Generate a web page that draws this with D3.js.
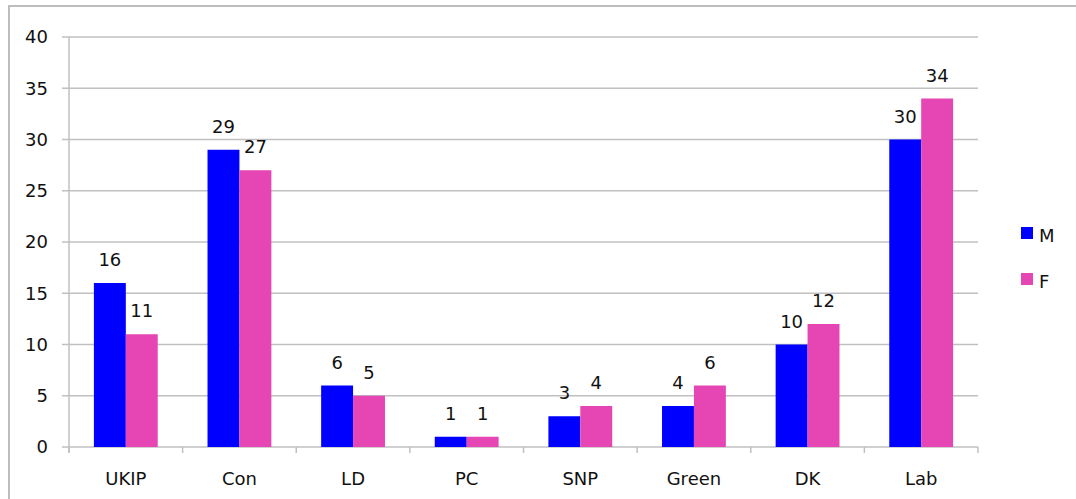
<!DOCTYPE html>
<html lang="en">
<head>
    <meta charset="utf-8" />
    <title>M / F by party</title>
    <style>
        body { margin: 0; background: white; }
        text { font-family: 'DejaVu Sans', sans-serif; fill: #111; }
        .grid line { stroke: #c0c0c0; stroke-width: 1.5px; }
        .axis line, .axis path { stroke: #c0c0c0; stroke-width: 1.5px; fill: none; }
    </style>
    <script src="https://d3js.org/d3.v7.min.js"></script>
</head>
<body>
    <svg id="vis" width="1076" height="499"></svg>
    <script>
        var parties = ["UKIP", "Con", "LD", "PC", "SNP", "Green", "DK", "Lab"];
        var maleValues = [16, 29, 6, 1, 3, 4, 10, 30];
        var femaleValues = [11, 27, 5, 1, 4, 6, 12, 34];
        var series = ["M", "F"];
        var yTicks = [0, 5, 10, 15, 20, 25, 30, 35, 40];

        var fills = { M: "#0000ff", F: "#e646b4" };

        var margin = { top: 37, left: 69, right: 98, bottom: 52 };
        var width = 1076 - margin.left - margin.right;
        var height = 499 - margin.top - margin.bottom;

        var svg = d3.select("#vis");

        // outer frame
        svg.append("rect").attr("x", 9).attr("y", 6).attr("width", 1100).attr("height", 600)
            .attr("fill", "none").attr("stroke", "#bdbdbd").attr("stroke-width", 2);

        var g = svg.append("g").attr("transform", "translate(" + margin.left + "," + margin.top + ")");

        var x0 = d3.scaleBand().domain(parties).range([0, width]).padding(0);
        var x1 = d3.scaleBand().domain(series).range([0, x0.bandwidth()]).paddingInner(0).paddingOuter(0.78);
        var y = d3.scaleLinear().domain([0, 40]).range([height, 0]);

        // gridlines + y labels
        var grid = g.append("g").attr("class", "grid");
        grid.selectAll("line").data(yTicks).enter().append("line")
            .attr("x1", -7).attr("x2", width)
            .attr("y1", function (d) { return y(d); }).attr("y2", function (d) { return y(d); });

        g.append("g").selectAll("text").data(yTicks).enter().append("text")
            .attr("x", -21).attr("y", function (d) { return y(d); })
            .attr("dy", "0.36em").attr("text-anchor", "end").attr("font-size", 18)
            .text(function (d) { return d; });

        // y axis line
        g.append("line").attr("class", "axisline")
            .attr("x1", 0).attr("x2", 0).attr("y1", y(40)).attr("y2", height + 6)
            .attr("stroke", "#c0c0c0").attr("stroke-width", 1.5);

        // x axis
        var xAxis = g.append("g").attr("class", "axis").attr("transform", "translate(0," + height + ")");
        xAxis.selectAll("line.tick").data(parties.concat(["end"])).enter().append("line")
            .attr("x1", function (d, i) { return i * x0.step(); })
            .attr("x2", function (d, i) { return i * x0.step(); })
            .attr("y1", 0).attr("y2", 6);
        xAxis.selectAll("text").data(parties).enter().append("text")
            .attr("x", function (d) { return x0(d) + x0.bandwidth() / 2; })
            .attr("y", 38).attr("text-anchor", "middle").attr("font-size", 18)
            .text(function (d) { return d; });

        // bars
        var rows = parties.map(function (p, i) { return { party: p, M: maleValues[i], F: femaleValues[i] }; });

        var groups = g.selectAll("g.party").data(rows).enter().append("g").attr("class", "party")
            .attr("transform", function (d) { return "translate(" + x0(d.party) + ",0)"; });

        var cells = groups.selectAll("g.bar").data(function (d) {
            return series.map(function (s) { return { key: s, value: d[s] }; });
        }).enter().append("g").attr("class", "bar");

        cells.append("rect")
            .attr("x", function (d) { return x1(d.key); })
            .attr("width", x1.bandwidth())
            .attr("y", function (d) { return y(d.value); })
            .attr("height", function (d) { return height - y(d.value); })
            .attr("fill", function (d) { return fills[d.key]; });

        cells.append("text")
            .attr("x", function (d) { return x1(d.key) + x1.bandwidth() / 2; })
            .attr("y", function (d) { return y(d.value) - 17; })
            .attr("text-anchor", "middle").attr("font-size", 18)
            .text(function (d) { return d.value; });

        // legend
        var legend = svg.append("g").attr("transform", "translate(1021,227)");
        var items = legend.selectAll("g").data(series).enter().append("g")
            .attr("transform", function (d, i) { return "translate(0," + (i * 46) + ")"; });
        items.append("rect").attr("width", 12).attr("height", 12)
            .attr("fill", function (d) { return fills[d]; });
        items.append("text").attr("x", 18).attr("y", 15).attr("font-size", 18)
            .text(function (d) { return d; });
    </script>
</body>
</html>
